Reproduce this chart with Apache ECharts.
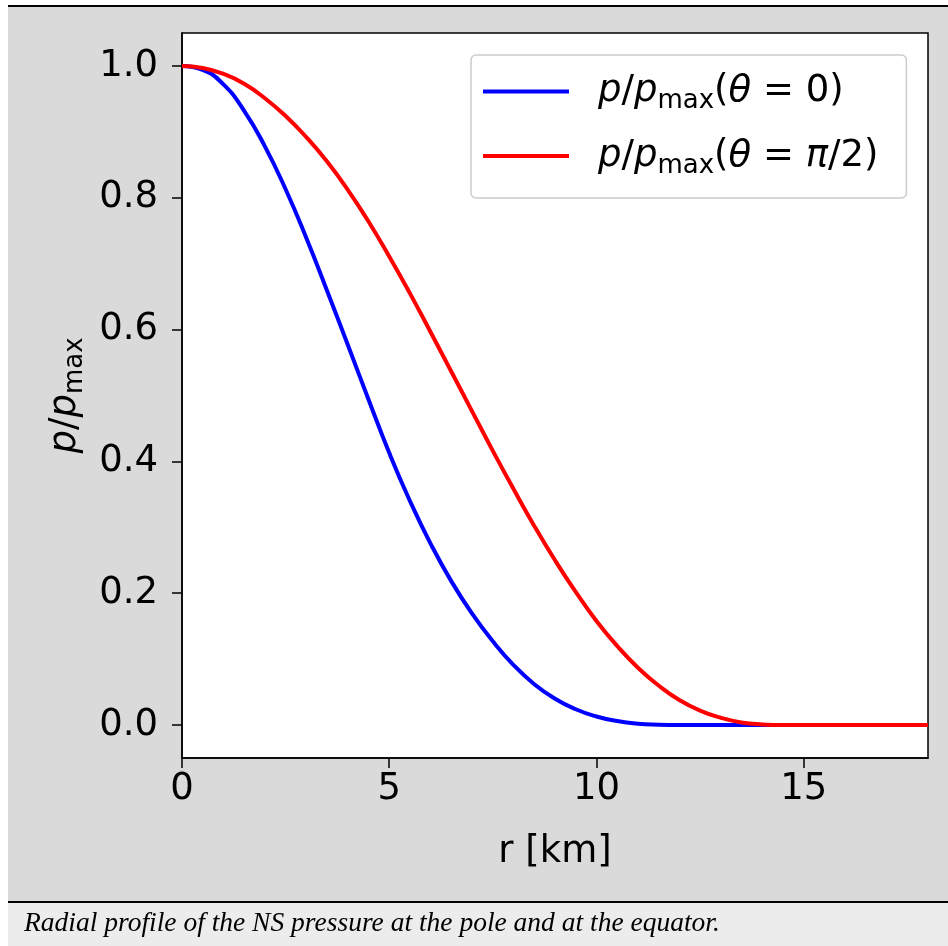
<!DOCTYPE html>
<html><head><meta charset="utf-8">
<script src="https://cdn.jsdelivr.net/npm/echarts@6/dist/echarts.min.js"></script>
<style>
html,body{margin:0;padding:0;background:#fff;}
#wrap{position:relative;width:948px;height:946px;overflow:hidden;}
#gray{position:absolute;left:8px;top:5px;width:940px;height:896px;background:#dadada;border-top:2px solid #000;}
#cap{position:absolute;left:8px;top:901px;width:940px;height:45px;background:#ececec;border-top:2px solid #000;}
#c{position:absolute;left:0;top:0;width:948px;height:946px;}
</style>
</head><body>
<div id="wrap"><div id="gray"></div><div id="cap"></div><div id="c"></div></div>
<script>
const rValues = [0,0.5,1,1.5,2,2.5,3,3.5,4,4.5,5,5.5,6,6.5,7,7.5,8,8.5,9,9.5,10,10.5,11,11.5,12,12.5,13,13.5,14,14.5,15,15.5,16,16.5,17,17.5,18];
const poleValues = [1.0,0.994,0.972,0.932,0.878,0.813,0.739,0.659,0.577,0.494,0.413,0.340,0.275,0.218,0.169,0.127,0.091,0.062,0.040,0.024,0.013,0.006,0.002,0.0005,0,0,0,0,0,0,0,0,0,0,0,0,0];
const equatorValues = [1.0,0.997,0.988,0.973,0.951,0.924,0.892,0.855,0.812,0.764,0.711,0.655,0.596,0.536,0.476,0.416,0.358,0.302,0.250,0.202,0.158,0.120,0.087,0.060,0.038,0.022,0.011,0.004,0.001,0,0,0,0,0,0,0,0];
const xTicks = [0,5,10,15];
const yTicks = [0,0.2,0.4,0.6,0.8,1.0];
const seriesNames = ['pole','equator'];
const legendLabels = {
  pole: '{i|p}{t|/}{i|p}{s|max}{t|(}{i|θ}{t| = 0)}',
  equator: '{i|p}{t|/}{i|p}{s|max}{t|(}{i|θ}{t| = }{i|π}{t|/2)}'
};
const caption = 'Radial profile of the NS pressure at the pole and at the equator.';

const F = 'DejaVu Sans';
const FS = 37;
const rich = {
  i: {fontFamily: F, fontStyle: 'italic', fontSize: FS, color: '#000'},
  t: {fontFamily: F, fontSize: FS, color: '#000'},
  s: {fontFamily: F, fontSize: 26, color: '#000', padding: [20, 0, 0, 0]}
};
const chart = echarts.init(document.getElementById('c'), null, {renderer: 'canvas'});
const pole = rValues.map((r, k) => [r, poleValues[k]]);
const equator = rValues.map((r, k) => [r, equatorValues[k]]);
chart.setOption({
  backgroundColor: 'transparent',
  animation: false,
  grid: {left: 182, top: 33, right: 20, bottom: 188, show: true, backgroundColor: '#fff', borderColor: '#000', borderWidth: 1.5},
  xAxis: {
    type: 'value', min: 0, max: 18,
    axisLine: {show: true, onZero: false, lineStyle: {color: '#000', width: 1.5}},
    axisTick: {show: true, length: 10, lineStyle: {color: '#000', width: 1.5}, customValues: xTicks},
    axisLabel: {fontFamily: F, fontSize: FS, color: '#000', margin: 13, customValues: xTicks},
    splitLine: {show: false},
    name: 'r [km]', nameLocation: 'middle', nameGap: 76,
    nameTextStyle: {fontFamily: F, fontSize: FS, color: '#000'}
  },
  yAxis: {
    type: 'value', min: -0.05, max: 1.05,
    axisLine: {show: true, onZero: false, lineStyle: {color: '#000', width: 1.5}},
    axisTick: {show: true, length: 10, lineStyle: {color: '#000', width: 1.5}, customValues: yTicks},
    axisLabel: {fontFamily: F, fontSize: FS, color: '#000', margin: 24, customValues: yTicks, formatter: v => v.toFixed(1)},
    splitLine: {show: false},
    name: '{i|p}{t|/}{i|p}{s|max}', nameLocation: 'middle', nameGap: 90, nameRotate: 90,
    nameTextStyle: {rich: rich}
  },
  legend: {
    data: seriesNames, orient: 'vertical', left: 471, top: 55,
    icon: 'rect', itemWidth: 86, itemHeight: 4, itemGap: 23,
    padding: [18, 28, 19, 12],
    backgroundColor: 'rgba(255,255,255,0.8)', borderColor: '#cccccc', borderWidth: 1.5, borderRadius: 5,
    formatter: n => legendLabels[n],
    textStyle: {padding: [0, 0, 0, 24], rich: rich}
  },
  series: [
    {name: 'pole', type: 'line', data: pole, smooth: 0.5, showSymbol: false, symbol: 'none', lineStyle: {color: '#0000ff', width: 4}, itemStyle: {color: '#0000ff'}, z: 2},
    {name: 'equator', type: 'line', data: equator, smooth: 0.5, showSymbol: false, symbol: 'none', lineStyle: {color: '#ff0000', width: 4}, itemStyle: {color: '#ff0000'}, z: 3}
  ],
  graphic: [
    {type: 'text', left: 24, top: 910, z: 100, style: {text: caption, fontFamily: 'Liberation Serif', fontStyle: 'italic', fontSize: 27.5, fill: '#000'}}
  ]
});
</script>
</body></html>
